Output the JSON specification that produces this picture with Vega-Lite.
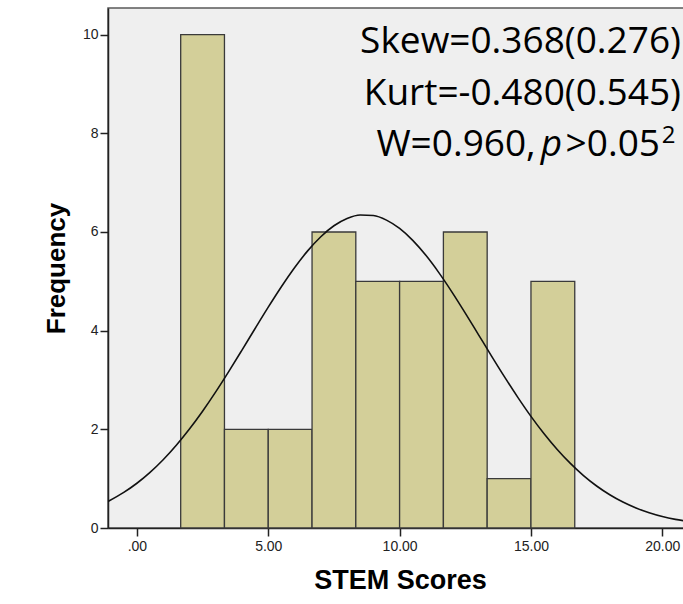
{
  "$schema": "https://vega.github.io/schema/vega-lite/v6.json",
  "width": 584,
  "height": 520,
  "autosize": {"type": "none"},
  "padding": {"left": 108, "top": 8, "right": 0, "bottom": 76},
  "background": "white",
  "config": {
    "view": {"fill": "#efefef", "stroke": "#5a5a5a", "strokeWidth": 1.5},
    "axis": {
      "grid": false,
      "domainColor": "#222222",
      "domainWidth": 1.5,
      "tickColor": "#222222",
      "tickWidth": 1.5,
      "tickSize": 8,
      "labelFont": "Liberation Sans",
      "labelFontSize": 14,
      "labelColor": "#222222",
      "titleFont": "Liberation Sans",
      "titleFontWeight": "bold",
      "titleColor": "#000000"
    }
  },
  "encoding": {
    "x": {
      "field": "x",
      "type": "quantitative",
      "scale": {"domain": [-1.1, 21.13], "nice": false, "zero": false},
      "axis": {
        "title": "STEM Scores",
        "titleFontSize": 27,
        "values": [0, 5, 10, 15, 20],
        "labelExpr": "datum.value == 0 ? '.00' : format(datum.value, '.2f')",
        "labelPadding": 3,
        "titlePadding": 14
      }
    },
    "y": {
      "field": "y",
      "type": "quantitative",
      "scale": {"domain": [0, 10.54], "nice": false},
      "axis": {
        "title": "Frequency",
        "titleFontSize": 26,
        "values": [0, 2, 4, 6, 8, 10],
        "labelPadding": 2,
        "titlePadding": 13
      }
    }
  },
  "layer": [
    {
      "data": {"values": [
        {"x": 1.667, "x_end": 3.333, "y": 10},
        {"x": 3.333, "x_end": 5.0, "y": 2},
        {"x": 5.0, "x_end": 6.667, "y": 2},
        {"x": 6.667, "x_end": 8.333, "y": 6},
        {"x": 8.333, "x_end": 10.0, "y": 5},
        {"x": 10.0, "x_end": 11.667, "y": 5},
        {"x": 11.667, "x_end": 13.333, "y": 6},
        {"x": 13.333, "x_end": 15.0, "y": 1},
        {"x": 15.0, "x_end": 16.667, "y": 5}
      ]},
      "mark": {"type": "rect", "fill": "#d3cf99", "stroke": "#3a3a3a", "strokeWidth": 1.3},
      "encoding": {
        "x2": {"field": "x_end"},
        "y2": {"datum": 0}
      }
    },
    {
      "data": {"values": [
        {"x": -1.1, "y": 0.537}, {"x": -0.5, "y": 0.721}, {"x": 0, "y": 0.907},
        {"x": 0.5, "y": 1.128}, {"x": 1, "y": 1.384}, {"x": 1.5, "y": 1.678},
        {"x": 2, "y": 2.006}, {"x": 2.5, "y": 2.368}, {"x": 3, "y": 2.76},
        {"x": 3.5, "y": 3.176}, {"x": 4, "y": 3.607}, {"x": 4.5, "y": 4.044},
        {"x": 5, "y": 4.476}, {"x": 5.5, "y": 4.89}, {"x": 6, "y": 5.275},
        {"x": 6.5, "y": 5.617}, {"x": 7, "y": 5.904}, {"x": 7.5, "y": 6.126},
        {"x": 8, "y": 6.274}, {"x": 8.5, "y": 6.345}, {"x": 9, "y": 6.333},
        {"x": 9.5, "y": 6.241}, {"x": 10, "y": 6.071}, {"x": 10.5, "y": 5.829},
        {"x": 11, "y": 5.526}, {"x": 11.5, "y": 5.171}, {"x": 12, "y": 4.777},
        {"x": 12.5, "y": 4.356}, {"x": 13, "y": 3.921}, {"x": 13.5, "y": 3.485},
        {"x": 14, "y": 3.058}, {"x": 14.5, "y": 2.648}, {"x": 15, "y": 2.263},
        {"x": 15.5, "y": 1.91}, {"x": 16, "y": 1.591}, {"x": 16.5, "y": 1.309},
        {"x": 17, "y": 1.062}, {"x": 17.5, "y": 0.851}, {"x": 18, "y": 0.674},
        {"x": 18.5, "y": 0.526}, {"x": 19, "y": 0.406}, {"x": 19.5, "y": 0.309},
        {"x": 20, "y": 0.232}, {"x": 20.5, "y": 0.175}, {"x": 21.13, "y": 0.125}
      ]},
      "mark": {"type": "line", "color": "#111111", "strokeWidth": 1.6, "interpolate": "monotone", "clip": true}
    },
    {
      "data": {"values": [
        {"x": 20.71, "y": 9.63, "label": "Skew=0.368(0.276)"},
        {"x": 20.71, "y": 8.57, "label": "Kurt=-0.480(0.545)"},
        {"x": 15.18, "y": 7.55, "label": "W=0.960,"},
        {"x": 19.91, "y": 7.55, "label": ">0.05"}
      ]},
      "mark": {"type": "text", "align": "right", "baseline": "alphabetic", "font": "Open Sans", "fontSize": 37, "color": "#000000"},
      "encoding": {"text": {"field": "label"}}
    },
    {
      "data": {"values": [
        {"x": 15.78, "y": 7.55, "label": "p"}
      ]},
      "mark": {"type": "text", "align": "center", "baseline": "alphabetic", "font": "Open Sans", "fontSize": 37, "fontStyle": "italic", "color": "#000000"},
      "encoding": {"text": {"field": "label"}}
    },
    {
      "data": {"values": [
        {"x": 19.98, "y": 7.8, "label": "2"}
      ]},
      "mark": {"type": "text", "align": "left", "baseline": "alphabetic", "font": "Open Sans", "fontSize": 24, "color": "#000000"},
      "encoding": {"text": {"field": "label"}}
    }
  ]
}
